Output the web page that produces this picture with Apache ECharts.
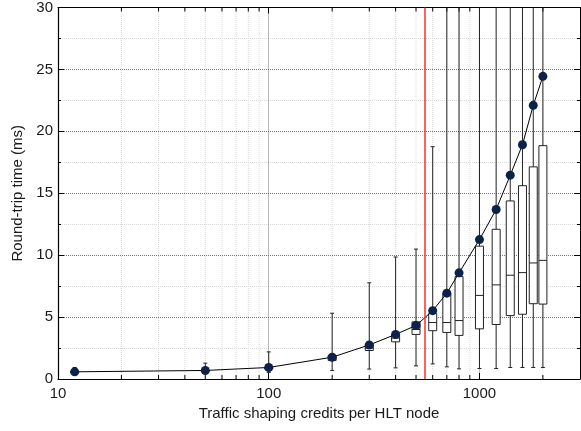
<!DOCTYPE html>
<html>
<head>
<meta charset="utf-8">
<script src="https://cdn.jsdelivr.net/npm/echarts@6/dist/echarts.min.js"></script>
<style>
html,body{margin:0;padding:0;background:#fff;}
#chart{width:581px;height:431px;}
</style>
</head>
<body>
<div id="chart"></div>
<script>
// ---- data ----
var credits     = [12, 50, 100, 200, 300, 400, 500, 600, 700, 800, 1000, 1200, 1400, 1600, 1800, 2000];
var meanRtt     = [0.58, 0.69, 0.93, 1.76, 2.75, 3.6, 4.32, 5.52, 6.93, 8.57, 11.26, 13.69, 16.46, 18.92, 22.1, 24.44];
var whiskerLow  = [0.45, 0.5, 0.53, 0.69, 0.8, 0.9, 1.06, 1.22, 0.98, 0.82, 0.85, 0.85, 0.93, 0.93, 0.93, 0.93];
var q1          = [0.5, 0.6, 0.8, 1.5, 2.3, 3.0, 3.6, 3.9, 3.76, 3.52, 4.05, 4.4, 5.12, 5.23, 6.08, 6.05];
var median      = [0.55, 0.65, 0.85, 1.65, 2.5, 3.3, 4.0, 4.56, 4.56, 4.72, 6.75, 7.6, 8.38, 8.59, 9.37, 9.58];
var q3          = [0.6, 0.7, 0.95, 1.9, 2.8, 3.6, 4.61, 5.28, 6.9, 8.27, 10.73, 12.09, 14.38, 15.61, 17.13, 18.84];
var whiskerHigh = [0.93, 1.28, 2.19, 5.31, 7.77, 9.85, 10.49, 18.76, 40, 40, 40, 40, 40, 40, 40, 40];
var thresholdCredits = [550];
var xTickLabels = ['10', '100', '1000'];
var yTickLabels = ['0', '5', '10', '15', '20', '25', '30'];
var xName = 'Traffic shaping credits per HLT node';
var yName = 'Round-trip time (ms)';

// ---- build ----
var FONT = 'Liberation Sans, Arial, sans-serif';
var X_MIN = 10, X_MAX = 3000;

var minorX = [];
[10, 100, 1000].forEach(function (d) {
  for (var k = 2; k <= 9; k++) {
    var v = k * d;
    if (v < X_MAX) minorX.push([v, 0]);
  }
});

var boxData = credits.map(function (c, i) {
  return [c, whiskerLow[i], q1[i], median[i], q3[i], whiskerHigh[i]];
});
var meanData = credits.map(function (c, i) { return [c, meanRtt[i]]; });

function xLabel(v) {
  var l = Math.log(v) / Math.LN10;
  if (Math.abs(l - Math.round(l)) < 1e-6) {
    var s = String(Math.round(v));
    return xTickLabels.indexOf(s) >= 0 ? s : '';
  }
  return '';
}

var chart = echarts.init(document.getElementById('chart'), null, {renderer: 'canvas'});
chart.setOption({
  animation: false,
  backgroundColor: '#fff',
  textStyle: {fontFamily: FONT},
  grid: {left: 58, right: 1, top: 5, bottom: 52, containLabel: false},
  xAxis: [{
    type: 'log', logBase: 10, min: X_MIN, max: X_MAX, position: 'bottom',
    name: xName, nameLocation: 'middle', nameGap: 24,
    nameTextStyle: {fontFamily: FONT, fontSize: 15, color: '#1a1a1a'},
    axisLine: {show: true, onZero: false, lineStyle: {color: '#000', width: 1.2}},
    axisTick: {show: true, inside: true, length: 6, lineStyle: {color: '#000'}},
    axisLabel: {fontFamily: FONT, fontSize: 15, color: '#1a1a1a', margin: 7, formatter: xLabel, showMaxLabel: false},
    splitLine: {show: true, lineStyle: {color: '#777', type: 'dotted', width: 1}}
  }, {
    type: 'log', logBase: 10, min: X_MIN, max: X_MAX, position: 'top',
    axisLine: {show: true, onZero: false, lineStyle: {color: '#000', width: 1}},
    axisTick: {show: true, inside: true, length: 6, lineStyle: {color: '#000'}},
    axisLabel: {show: false},
    splitLine: {show: false}
  }],
  yAxis: [{
    type: 'value', min: 0, max: 30, interval: 5, position: 'left',
    name: yName, nameLocation: 'middle', nameGap: 28,
    nameTextStyle: {fontFamily: FONT, fontSize: 15, color: '#1a1a1a'},
    axisLine: {show: true, onZero: false, lineStyle: {color: '#000', width: 1.2}},
    axisTick: {show: true, inside: true, length: 6, lineStyle: {color: '#000'}},
    minorTick: {show: true, splitNumber: 2, length: 3, lineStyle: {color: '#000'}},
    axisLabel: {fontFamily: FONT, fontSize: 15, color: '#1a1a1a', margin: 5,
      formatter: function (v) { var s = String(v); return yTickLabels.indexOf(s) >= 0 ? s : ''; }},
    splitLine: {show: true, lineStyle: {color: '#777', type: 'dotted', width: 1}},
    minorSplitLine: {show: true, lineStyle: {color: '#d8d8d8', type: 'dotted', width: 1}}
  }, {
    type: 'value', min: 0, max: 30, interval: 5, position: 'right',
    axisLine: {show: true, onZero: false, lineStyle: {color: '#000', width: 1}},
    axisTick: {show: true, inside: true, length: 6, lineStyle: {color: '#000'}},
    minorTick: {show: true, splitNumber: 2, length: 3, lineStyle: {color: '#000'}},
    axisLabel: {show: false},
    splitLine: {show: false}
  }],
  series: [{
    type: 'custom', name: 'minorGrid', z: 1, silent: true, clip: false,
    xAxisIndex: 0, yAxisIndex: 0,
    data: minorX,
    encode: {x: 0, y: 1},
    renderItem: function (params, api) {
      var v = api.value(0);
      var pb = api.coord([v, 0]);
      var pt = api.coord([v, 30]);
      return {
        type: 'group',
        children: [{
          type: 'line',
          shape: {x1: pb[0], y1: pb[1], x2: pt[0], y2: pt[1]},
          style: {stroke: '#d8d8d8', lineWidth: 1, lineDash: [1, 1]}
        }, {
          type: 'line',
          shape: {x1: pb[0], y1: pb[1], x2: pb[0], y2: pb[1] - 4},
          style: {stroke: '#000', lineWidth: 1}
        }, {
          type: 'line',
          shape: {x1: pt[0], y1: pt[1], x2: pt[0], y2: pt[1] + 4},
          style: {stroke: '#000', lineWidth: 1}
        }]
      };
    }
  }, {
    type: 'custom', name: 'distribution', z: 2, silent: true, clip: true,
    xAxisIndex: 0, yAxisIndex: 0,
    data: boxData,
    encode: {x: 0, y: [1, 2, 3, 4, 5]},
    renderItem: function (params, api) {
      var x = api.value(0);
      var pL = api.coord([x, api.value(1)]);
      var p1 = api.coord([x, api.value(2)]);
      var pM = api.coord([x, api.value(3)]);
      var p3 = api.coord([x, api.value(4)]);
      var pH = api.coord([x, api.value(5)]);
      var hw = 4, cw = 2;
      var cx = pL[0];
      var stroke = '#222';
      return {
        type: 'group',
        children: [{
          type: 'line', shape: {x1: cx, y1: pL[1], x2: cx, y2: pH[1]},
          style: {stroke: stroke, lineWidth: 1}
        }, {
          type: 'line', shape: {x1: cx - cw, y1: pL[1], x2: cx + cw, y2: pL[1]},
          style: {stroke: stroke, lineWidth: 1}
        }, {
          type: 'line', shape: {x1: cx - cw, y1: pH[1], x2: cx + cw, y2: pH[1]},
          style: {stroke: stroke, lineWidth: 1}
        }, {
          type: 'rect', shape: {x: cx - hw, y: p3[1], width: hw * 2, height: p1[1] - p3[1]},
          style: {fill: '#fff', stroke: stroke, lineWidth: 1}
        }, {
          type: 'line', shape: {x1: cx - hw, y1: pM[1], x2: cx + hw, y2: pM[1]},
          style: {stroke: stroke, lineWidth: 1}
        }]
      };
    }
  }, {
    type: 'line', name: 'mean', z: 4,
    xAxisIndex: 0, yAxisIndex: 0,
    data: meanData,
    symbol: 'circle', symbolSize: 9,
    itemStyle: {color: '#0e2149'},
    lineStyle: {color: '#000', width: 1},
    markLine: {
      silent: true, symbol: 'none', animation: false,
      label: {show: false},
      lineStyle: {color: '#ff2b2b', width: 1.5, type: 'solid'},
      data: thresholdCredits.map(function (t) { return {xAxis: t}; })
    }
  }]
});
</script>
</body>
</html>
